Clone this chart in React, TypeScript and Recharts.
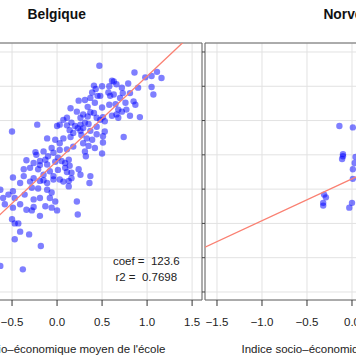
import React from 'react';
import { ScatterChart, Scatter, XAxis, YAxis, CartesianGrid, ReferenceArea } from 'recharts';

// indice socio-économique moyen de l'école (x) / score moyen (y)
const belgique: [number, number][] = [
  [0.47, 630], [0.86, 620], [0.98, 613], [1.05, 615], [1.11, 621], [1.16, 612],
  [1.07, 588], [1.05, 599], [0.9, 598], [0.61, 608], [0.63, 607], [0.58, 600],
  [0.66, 603], [0.72, 598], [0.79, 604], [0.5, 600], [0.57, 591], [0.63, 588],
  [0.73, 590], [0.81, 590], [0.59, 586], [0.7, 583], [0.85, 578], [0.87, 573],
  [0.76, 576], [0.48, 586], [0.58, 573], [0.5, 569], [0.68, 566], [0.72, 563],
  [0.77, 566], [0.66, 559], [0.81, 557], [0.92, 555], [0.51, 555], [0.68, 554],
  [0.48, 551], [0.53, 549], [0.41, 601], [0.43, 596], [0.39, 591], [0.45, 586],
  [0.37, 583], [0.24, 579], [0.31, 580], [0.42, 576], [0.15, 568], [0.34, 570],
  [0.22, 563], [0.37, 562], [0.41, 561], [0.29, 559], [0.34, 556], [-0.22, 544],
  [0.07, 551], [0.16, 547], [0.26, 544], [0.03, 544], [0.31, 547], [0.11, 543],
  [0.0, 542], [0.2, 542], [0.23, 539], [0.14, 536], [0.29, 539], [0.27, 529],
  [-0.5, 534], [-0.11, 524], [-0.02, 522], [-0.06, 510], [0.15, 526], [0.03, 517],
  [0.11, 508], [0.18, 532], [0.26, 535], [0.37, 535], [0.33, 524], [0.39, 522],
  [0.44, 530], [0.35, 513], [0.42, 510], [0.32, 498], [-0.24, 504], [-0.23, 500],
  [-0.15, 505], [-0.1, 498], [-0.04, 503], [0.01, 496], [0.05, 491], [0.13, 493],
  [0.14, 484], [0.09, 481], [0.16, 474], [0.24, 479], [0.26, 471], [0.36, 459],
  [-0.34, 492], [-0.26, 488], [-0.19, 491], [-0.11, 486], [-0.3, 481], [-0.21, 479],
  [-0.37, 479], [-0.08, 476], [-0.15, 471], [-0.04, 469], [0.03, 464], [0.13, 462],
  [-0.26, 466], [-0.37, 469], [-0.49, 467], [-0.41, 459], [-0.19, 462], [-0.11, 459],
  [0.13, 454], [-0.28, 452], [-0.21, 451], [-0.11, 449], [-0.06, 445], [-0.49, 447],
  [-0.63, 449], [-0.54, 442], [-0.6, 437], [-0.47, 437], [-0.36, 442], [-0.26, 435],
  [-0.19, 437], [-0.08, 437], [-0.02, 432], [0.22, 432], [-0.13, 425], [-0.06, 423],
  [-0.26, 424], [-0.34, 420], [-0.58, 428], [-0.49, 423], [-0.41, 428], [0.74, 526],
  [0.5, 502], [0.37, 469], [0.23, 413], [0.0, 419], [-0.19, 411], [-0.28, 419],
  [-0.5, 406], [-0.47, 400], [-0.43, 400], [-0.41, 388], [-0.31, 384], [-0.47, 377],
  [-0.18, 367], [0.53, 534], [0.51, 527], [0.51, 518], [-0.63, 338], [-0.38, 333],
  [0.65, 574], [0.61, 557], [0.26, 554], [0.44, 554], [0.11, 554], [0.35, 545],
  [0.44, 541], [0.07, 524], [0.29, 517], [0.31, 505], [0.03, 507], [0.18, 512],
  [-0.13, 493], [-0.02, 490], [0.09, 488], [-0.19, 485], [0.01, 478], [0.11, 475],
  [0.16, 466], [-0.15, 463], [-0.04, 464], [0.07, 461], [-0.3, 461],
];

const norvege: [number, number][] = [
  [-0.14, 542], [0.01, 540], [-0.1, 501], [-0.1, 498], [-0.11, 494], [0.04, 497],
  [0.03, 488], [0.01, 479], [0.01, 465], [-0.31, 442], [-0.29, 438], [-0.32, 430],
  [-0.32, 426], [0.0, 430], [-0.03, 423],
];

const belgiqueFit = { intercept: 491, coef: 123.6, r2: 0.7698 };
const norvegeFit = { intercept: 465, coef: 61 };

const xTicks = [-1.5, -1, -0.5, 0, 0.5, 1, 1.5];
const yTicks = [300, 350, 400, 450, 500, 550, 600, 650];
const yDomain: [number, number] = [288.3, 663.1];

const font = '"Liberation Sans", Arial, Helvetica, sans-serif';
const xTitle = "Indice socio\u2013économique moyen de l'école";

const fmt = (v: number) => (v < 0 ? '\u2212' : '') + Math.abs(v).toFixed(1);

const Dot = (props: any) => (
  <circle cx={props.cx} cy={props.cy} r={3.2} fill="#0000ff" fillOpacity={0.5} />
);
const NoDot = () => <g />;

type PanelProps = {
  points: [number, number][];
  fit: { intercept: number; coef: number };
  xDomain: [number, number];
  left: number;
  marginLeft: number;
  plotWidth: number;
  yMarks: boolean;
};

function Panel({ points, fit, xDomain, left, marginLeft, plotWidth, yMarks }: PanelProps) {
  const data = points.map(([x, y]) => ({ x, y }));
  const lineData = xDomain.map((x) => ({ x, y: fit.intercept + fit.coef * x }));
  return (
    <div style={{ position: 'absolute', left, top: 0 }}>
      <ScatterChart
        width={marginLeft + 1 + plotWidth + 4}
        height={364}
        margin={{ top: 43, right: 4, bottom: 34, left: marginLeft }}
      >
        <CartesianGrid stroke="#e2e2e2" />
        <XAxis
          type="number"
          dataKey="x"
          domain={xDomain}
          ticks={xTicks}
          interval={0}
          allowDataOverflow
          height={30}
          tickSize={6}
          tickMargin={12}
          axisLine={false}
          tickLine={{ stroke: '#333' }}
          tick={{ fill: '#222', fontSize: 11.5, fontFamily: font }}
          tickFormatter={fmt}
        />
        <YAxis
          type="number"
          dataKey="y"
          domain={yDomain}
          ticks={yTicks}
          interval={0}
          allowDataOverflow
          width={1}
          tickSize={3}
          axisLine={false}
          tickLine={yMarks ? { stroke: '#444' } : false}
          tickFormatter={() => ''}
        />
        <Scatter data={data} shape={Dot} isAnimationActive={false} />
        <Scatter
          data={lineData}
          shape={NoDot}
          line={{ stroke: '#FA8072', strokeWidth: 1.3 }}
          isAnimationActive={false}
        />
        <ReferenceArea
          x1={xDomain[0]}
          x2={xDomain[1]}
          y1={yDomain[0]}
          y2={yDomain[1]}
          fill="none"
          stroke="#666"
          strokeWidth={1}
          ifOverflow="visible"
        />
      </ScatterChart>
    </div>
  );
}

export default function App() {
  return (
    <div style={{ position: 'relative', width: 356, height: 364, overflow: 'hidden', background: '#fff' }}>
      <style>{'body{margin:0}'}</style>
      <Panel points={belgique} fit={belgiqueFit} xDomain={[-1.6, 1.61]} left={-101} marginLeft={13} plotWidth={289} yMarks={false} />
      <Panel points={norvege} fit={norvegeFit} xDomain={[-1.6333, 1.6]} left={194} marginLeft={10} plotWidth={291} yMarks={true} />
      <svg width={356} height={364} style={{ position: 'absolute', left: 0, top: 0, pointerEvents: 'none' }} fontFamily={font}>
        <text x={56.7} y={19} textAnchor="middle" fontWeight="bold" fontSize={13.8} fill="#111">Belgique</text>
        <text x={351} y={19} textAnchor="middle" fontWeight="bold" fontSize={13.8} fill="#111">Norvège</text>
        <text x={56} y={353} textAnchor="middle" fontSize={11.5} fill="#222">{xTitle}</text>
        <text x={351} y={353} textAnchor="middle" fontSize={11.5} fill="#222">{xTitle}</text>
        <text x={146.3} y={265} textAnchor="middle" fontSize={11.5} fill="#222" style={{ whiteSpace: 'pre' }}>
          {'coef =  ' + belgiqueFit.coef.toFixed(1)}
        </text>
        <text x={146.3} y={280.7} textAnchor="middle" fontSize={11.5} fill="#222" style={{ whiteSpace: 'pre' }}>
          {'r2 =  ' + belgiqueFit.r2.toFixed(4)}
        </text>
      </svg>
    </div>
  );
}
